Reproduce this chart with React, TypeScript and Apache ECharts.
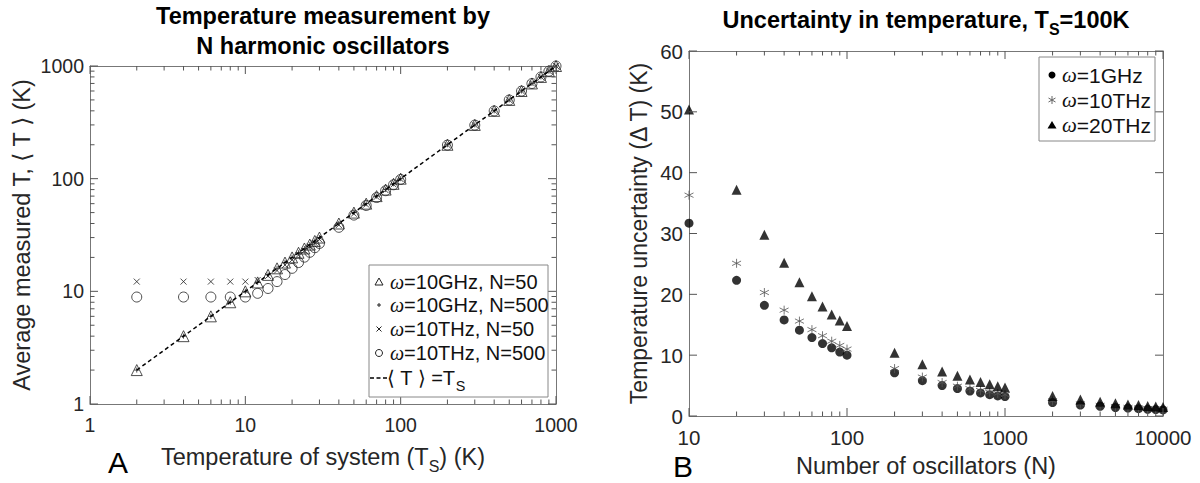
import React, { useEffect, useRef } from 'react';
import * as echarts from 'echarts';

// ---------- Panel A data ----------
const tempSys = [2, 4, 6, 8, 10, 12, 14, 16, 18, 20, 22, 24, 26, 28, 30, 40, 50, 60, 70, 80, 90, 100, 200, 300, 400, 500, 600, 700, 800, 900, 1000];
const ghz50 = [2, 4, 6, 8, 10, 12, 14, 16, 18, 20, 22, 24, 26, 28, 30, 40, 50, 60, 70, 80, 90, 100, 200, 300, 400, 500, 600, 700, 800, 900, 1000];
const ghz500 = [2, 4, 6, 8, 10, 12, 14, 16, 18, 20, 22, 24, 26, 28, 30, 40, 50, 60, 70, 80, 90, 100, 200, 300, 400, 500, 600, 700, 800, 900, 1000];
const thz50 = [12.2, 12.2, 12.2, 12.2, 12.2, 12.6, 13.7, 15.3, 17.1, 19.0, 21.0, 22.9, 24.9, 26.8, 28.8, 38.8, 48.8, 58.8, 68.9, 78.9, 88.9, 98.9, 199, 299, 399, 499, 599, 699, 799, 899, 999];
const thz500 = [8.9, 8.9, 8.9, 8.9, 8.9, 9.6, 10.6, 12.2, 14.1, 16.0, 18.0, 20.1, 22.2, 24.4, 26.6, 37.0, 47.5, 57.8, 68.0, 78.2, 88.3, 98.4, 198.6, 298.8, 399, 499, 599, 699, 799, 899, 999];
const fitX = [2, 1000];
const fitY = [2, 1000];
const aMajor = [1, 10, 100, 1000];
const aMinor = [2, 3, 4, 5, 6, 7, 8, 9, 20, 30, 40, 50, 60, 70, 80, 90, 200, 300, 400, 500, 600, 700, 800, 900];

// ---------- Panel B data ----------
const nOsc = [10, 20, 30, 40, 50, 60, 70, 80, 90, 100, 200, 300, 400, 500, 600, 700, 800, 900, 1000, 2000, 3000, 4000, 5000, 6000, 7000, 8000, 9000, 10000];
const dT1GHz = [31.7, 22.3, 18.2, 15.8, 14.1, 12.9, 11.9, 11.2, 10.5, 10.0, 7.1, 5.8, 5.0, 4.5, 4.1, 3.8, 3.5, 3.3, 3.2, 2.2, 1.8, 1.6, 1.4, 1.3, 1.2, 1.1, 1.05, 1.0];
const dT10THz = [36.3, 25.1, 20.3, 17.4, 15.6, 14.2, 13.2, 12.3, 11.6, 11.0, 7.8, 6.4, 5.5, 4.9, 4.5, 4.2, 3.9, 3.7, 3.5, 2.5, 2.0, 1.75, 1.55, 1.42, 1.32, 1.23, 1.16, 1.1];
const dT20THz = [50.4, 37.2, 29.8, 25.2, 22.0, 19.7, 18.0, 16.7, 15.7, 14.8, 10.4, 8.5, 7.3, 6.6, 6.0, 5.6, 5.2, 4.9, 4.7, 3.3, 2.7, 2.35, 2.1, 1.9, 1.8, 1.65, 1.57, 1.5];
const bXMajor = [10, 100, 1000, 10000];
const bXMinor = [20, 30, 40, 50, 60, 70, 80, 90, 200, 300, 400, 500, 600, 700, 800, 900, 2000, 3000, 4000, 5000, 6000, 7000, 8000, 9000];
const bYMajor = [0, 10, 20, 30, 40, 50, 60];

const FONT = '"Liberation Sans", Arial, Helvetica, sans-serif';
const SERIF = '"Liberation Serif", "DejaVu Serif", serif';
const AX = '#777777';
const TICK = '#555555';
const TXT = '#262626';

const PLUS = 'path://M5,0L5,10M0,5L10,5';
const CROSS = 'path://M0,0L10,10M0,10L10,0';
const STAR = 'path://M5,0L5,10M0.67,2.5L9.33,7.5M0.67,7.5L9.33,2.5';

const pair = (xs: number[], ys: number[]) => xs.map((x, i) => [x, ys[i]]);

function axis(opts: any) {
  const { gridIndex, type, min, max, position, label, fontSize, interval, name, nameGap, nameStyle, labelMargin } = opts;
  const a: any = {
    gridIndex,
    type,
    min,
    max,
    position,
    axisLine: { show: true, onZero: false, lineStyle: { color: AX, width: 1 } },
    axisTick: { show: false },
    minorTick: { show: false },
    axisLabel: {
      show: !!label,
      color: TXT,
      fontSize: fontSize || 19,
      fontFamily: FONT,
      margin: labelMargin || 8,
      formatter: (v: number) => String(Math.round(v)),
    },
    splitLine: { show: false },
  };
  if (type === 'log') a.logBase = 10;
  if (interval) a.interval = interval;
  if (name) {
    a.name = name;
    a.nameLocation = 'middle';
    a.nameGap = nameGap;
    a.nameTextStyle = nameStyle;
  }
  return a;
}

// Tick marks drawn inward on both opposite sides, placed through the axes' own scales (api.coord)
function xTicks(xi: number, yi: number, vals: number[], yMin: number, yMax: number, len: number) {
  return {
    type: 'custom', xAxisIndex: xi, yAxisIndex: yi, silent: true, clip: false, z: 4,
    data: vals.map((v) => [v, yMin]),
    renderItem: (_p: any, api: any) => {
      const v = api.value(0);
      const b = api.coord([v, yMin]);
      const t = api.coord([v, yMax]);
      const st = { stroke: TICK, lineWidth: 1 };
      return {
        type: 'group',
        children: [
          { type: 'line', shape: { x1: b[0], y1: b[1], x2: b[0], y2: b[1] - len }, style: st },
          { type: 'line', shape: { x1: t[0], y1: t[1], x2: t[0], y2: t[1] + len }, style: st },
        ],
      };
    },
  };
}
function yTicks(xi: number, yi: number, vals: number[], xMin: number, xMax: number, len: number) {
  return {
    type: 'custom', xAxisIndex: xi, yAxisIndex: yi, silent: true, clip: false, z: 4,
    data: vals.map((v) => [xMin, v]),
    renderItem: (_p: any, api: any) => {
      const v = api.value(1);
      const l = api.coord([xMin, v]);
      const r = api.coord([xMax, v]);
      const st = { stroke: TICK, lineWidth: 1 };
      return {
        type: 'group',
        children: [
          { type: 'line', shape: { x1: l[0], y1: l[1], x2: l[0] + len, y2: l[1] }, style: st },
          { type: 'line', shape: { x1: r[0], y1: r[1], x2: r[0] - len, y2: r[1] }, style: st },
        ],
      };
    },
  };
}

const subRich = (size: number, bold?: boolean) => ({
  s: { fontSize: size, fontFamily: FONT, fontWeight: bold ? 'bold' : 'normal', color: bold ? '#000' : TXT, lineHeight: size, verticalAlign: 'bottom' },
});

export default function App() {
  const ref = useRef<HTMLDivElement>(null);
  useEffect(() => {
    if (!ref.current) return;
    const chart = echarts.init(ref.current, undefined, { renderer: 'svg' });

    const gA = { left: 90, top: 66, width: 466, height: 338 };
    const gB = { left: 689, top: 51, width: 474, height: 366 };

    const xAxes = [
      axis({
        gridIndex: 0, type: 'log', min: 1, max: 1000, position: 'bottom', label: true, fontSize: 19.5, labelMargin: 11,
        name: 'Temperature of system (T{s|S}) (K)', nameGap: 36,
        nameStyle: { fontSize: 23.5, fontFamily: FONT, color: TXT, lineHeight: 34, rich: subRich(16) },
      }),
      axis({ gridIndex: 0, type: 'log', min: 1, max: 1000, position: 'top' }),
      axis({
        gridIndex: 1, type: 'log', min: 10, max: 10000, position: 'bottom', label: true, fontSize: 20.5, labelMargin: 11,
        name: 'Number of oscillators (N)', nameGap: 38,
        nameStyle: { fontSize: 23.5, fontFamily: FONT, color: TXT },
      }),
      axis({ gridIndex: 1, type: 'log', min: 10, max: 10000, position: 'top' }),
    ];
    const yAxes = [
      axis({
        gridIndex: 0, type: 'log', min: 1, max: 1000, position: 'left', label: true, fontSize: 19.5, labelMargin: 6,
        name: 'Average measured T, \u27E8 T \u27E9 (K)', nameGap: 56,
        nameStyle: { fontSize: 23.5, fontFamily: FONT, color: TXT },
      }),
      axis({ gridIndex: 0, type: 'log', min: 1, max: 1000, position: 'right' }),
      axis({
        gridIndex: 1, type: 'value', min: 0, max: 60, interval: 10, position: 'left', label: true, fontSize: 20.5, labelMargin: 6,
        name: 'Temperature uncertainty (\u0394 T) (K)', nameGap: 39,
        nameStyle: { fontSize: 23, fontFamily: FONT, color: TXT },
      }),
      axis({ gridIndex: 1, type: 'value', min: 0, max: 60, interval: 10, position: 'right' }),
    ];

    const openStyle = { color: 'rgba(255,255,255,0)', borderColor: '#222', borderWidth: 1 };

    const series: any[] = [
      xTicks(0, 0, aMajor, 1, 1000, 8),
      xTicks(0, 0, aMinor, 1, 1000, 4.5),
      yTicks(0, 0, aMajor, 1, 1000, 8),
      yTicks(0, 0, aMinor, 1, 1000, 4.5),
      xTicks(2, 2, bXMajor, 0, 60, 8),
      xTicks(2, 2, bXMinor, 0, 60, 4.5),
      yTicks(2, 2, bYMajor, 10, 10000, 8),
      {
        name: 'fit', type: 'line', xAxisIndex: 0, yAxisIndex: 0, data: pair(fitX, fitY), symbol: 'none',
        lineStyle: { color: '#000', width: 1.5, type: [4, 3] }, z: 3, silent: true,
      },
      { name: 'tri', type: 'scatter', xAxisIndex: 0, yAxisIndex: 0, data: pair(tempSys, ghz50), symbol: 'triangle', symbolSize: 11, itemStyle: openStyle, z: 2 },
      { name: 'plus', type: 'scatter', xAxisIndex: 0, yAxisIndex: 0, data: pair(tempSys, ghz500), symbol: PLUS, symbolSize: 5, itemStyle: { color: 'none', borderColor: '#222', borderWidth: 1 }, z: 2 },
      { name: 'cross', type: 'scatter', xAxisIndex: 0, yAxisIndex: 0, data: pair(tempSys, thz50), symbol: CROSS, symbolSize: 6, itemStyle: { color: 'none', borderColor: '#222', borderWidth: 1 }, z: 2 },
      { name: 'circ', type: 'scatter', xAxisIndex: 0, yAxisIndex: 0, data: pair(tempSys, thz500), symbol: 'circle', symbolSize: 10, itemStyle: openStyle, z: 2 },

      { name: 'g1', type: 'scatter', xAxisIndex: 2, yAxisIndex: 2, data: pair(nOsc, dT1GHz), symbol: 'circle', symbolSize: 9, itemStyle: { color: '#000' } },
      { name: 'g10', type: 'scatter', xAxisIndex: 2, yAxisIndex: 2, data: pair(nOsc, dT10THz), symbol: STAR, symbolSize: 9, itemStyle: { color: 'none', borderColor: '#555', borderWidth: 1 } },
      { name: 'g20', type: 'scatter', xAxisIndex: 2, yAxisIndex: 2, data: pair(nOsc, dT20THz), symbol: 'triangle', symbolSize: 10, itemStyle: { color: '#000' } },
    ];

    const wRich = (size: number) => ({
      w: { fontStyle: 'italic', fontFamily: SERIF, fontSize: size, fill: '#111' },
      s: { fontSize: size * 0.72, fontFamily: FONT, fill: '#111', lineHeight: size * 0.72, verticalAlign: 'bottom' },
    });
    const legText = (x: number, y: number, text: string, size: number) => ({
      type: 'text', x, y, z: 20,
      style: { text, fill: '#111', fontSize: size, fontFamily: FONT, verticalAlign: 'middle', align: 'left', lineHeight: size * 1.5, rich: wRich(size) },
    });
    const ln = (x1: number, y1: number, x2: number, y2: number, color = '#222', dash?: number[], w = 1) => ({
      type: 'line', z: 20, shape: { x1, y1, x2, y2 }, style: { stroke: color, lineWidth: w, lineDash: dash },
    });

    const rowsA = [282, 305, 329, 353, 378];
    const sx = 379;
    const rowsB = [75, 100, 125];
    const bx = 1052;

    const graphic: any[] = [
      // Legend A
      { type: 'rect', z: 19, shape: { x: 369, y: 265, width: 179, height: 132 }, style: { fill: '#fff', stroke: '#888', lineWidth: 1 } },
      { type: 'polygon', z: 20, shape: { points: [[sx, rowsA[0] - 4], [sx - 4, rowsA[0] + 3], [sx + 4, rowsA[0] + 3]] }, style: { fill: 'none', stroke: '#222', lineWidth: 1 } },
      ln(sx - 2, rowsA[1], sx + 2, rowsA[1]), ln(sx, rowsA[1] - 2, sx, rowsA[1] + 2),
      ln(sx - 2.5, rowsA[2] - 2.5, sx + 2.5, rowsA[2] + 2.5), ln(sx - 2.5, rowsA[2] + 2.5, sx + 2.5, rowsA[2] - 2.5),
      { type: 'circle', z: 20, shape: { cx: sx, cy: rowsA[3], r: 3.5 }, style: { fill: 'none', stroke: '#222', lineWidth: 1 } },
      ln(370, rowsA[4], 387, rowsA[4], '#000', [4, 2.5], 1.5),
      legText(390, rowsA[0], '{w|\u03C9}=10GHz, N=50', 20),
      legText(390, rowsA[1], '{w|\u03C9}=10GHz, N=500', 20),
      legText(390, rowsA[2], '{w|\u03C9}=10THz, N=50', 20),
      legText(390, rowsA[3], '{w|\u03C9}=10THz, N=500', 20),
      legText(387, rowsA[4], '\u27E8 T \u27E9 =T{s|S}', 20),

      // Legend B
      { type: 'rect', z: 19, shape: { x: 1039, y: 57, width: 116, height: 84 }, style: { fill: '#fff', stroke: '#888', lineWidth: 1 } },
      { type: 'circle', z: 20, shape: { cx: bx, cy: rowsB[0], r: 3.5 }, style: { fill: '#000' } },
      ln(bx, rowsB[1] - 4, bx, rowsB[1] + 4, '#666'),
      ln(bx - 3.5, rowsB[1] - 2, bx + 3.5, rowsB[1] + 2, '#666'),
      ln(bx - 3.5, rowsB[1] + 2, bx + 3.5, rowsB[1] - 2, '#666'),
      { type: 'polygon', z: 20, shape: { points: [[bx, rowsB[2] - 4], [bx - 4.5, rowsB[2] + 3.5], [bx + 4.5, rowsB[2] + 3.5]] }, style: { fill: '#000' } },
      legText(1062, rowsB[0], '{w|\u03C9}=1GHz', 21),
      legText(1062, rowsB[1], '{w|\u03C9}=10THz', 21),
      legText(1062, rowsB[2], '{w|\u03C9}=20THz', 21),

      // Panel letters
      { type: 'text', x: 118, y: 462, style: { text: 'A', fontSize: 30, fontFamily: FONT, fill: '#000', align: 'center', verticalAlign: 'middle' } },
      { type: 'text', x: 683, y: 466, style: { text: 'B', fontSize: 30, fontFamily: FONT, fill: '#000', align: 'center', verticalAlign: 'middle' } },
    ];

    chart.setOption({
      animation: false,
      backgroundColor: '#fff',
      textStyle: { fontFamily: FONT },
      title: [
        {
          text: 'Temperature measurement by\nN harmonic oscillators',
          left: 323, top: 1, padding: 0, textAlign: 'center',
          textStyle: { fontSize: 23.5, fontWeight: 'bold', fontFamily: FONT, color: '#000', lineHeight: 30 },
        },
        {
          text: 'Uncertainty in temperature, T{s|S}=100K',
          left: 926, top: 3, padding: 0, textAlign: 'center',
          textStyle: { fontSize: 23.5, fontWeight: 'bold', fontFamily: FONT, color: '#000', lineHeight: 34, rich: subRich(16, true) },
        },
      ],
      grid: [gA, gB],
      xAxis: xAxes,
      yAxis: yAxes,
      series,
      graphic,
    });
    return () => chart.dispose();
  }, []);
  return (
    <div
      ref={ref}
      style={{ position: 'fixed', left: 0, top: 0, width: 1200, height: 483, background: '#fff' }}
    />
  );
}
